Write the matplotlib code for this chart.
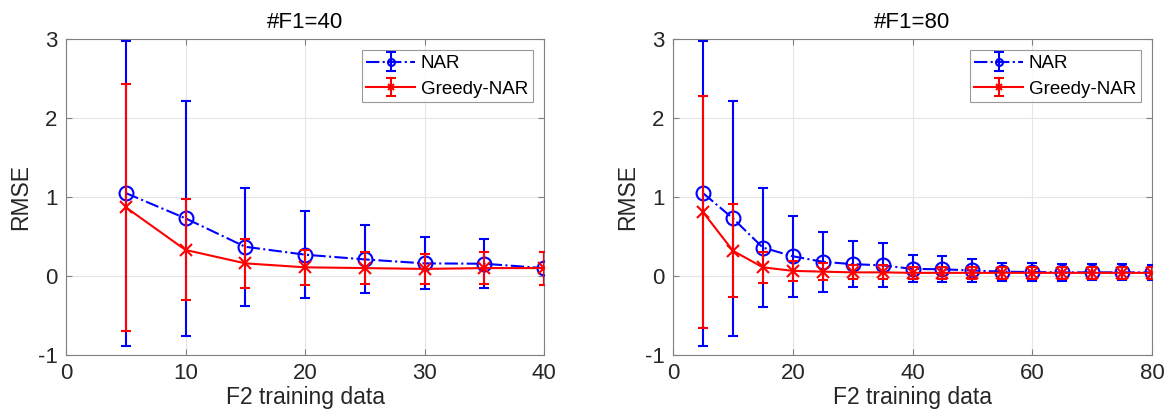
import matplotlib
matplotlib.use('Agg')
import matplotlib.pyplot as plt

plt.rcParams['font.family'] = ['Liberation Sans', 'DejaVu Sans']
plt.rcParams['axes.unicode_minus'] = False

# #F1=40
x40 = [5, 10, 15, 20, 25, 30, 35, 40]
nar40 = [1.05, 0.73, 0.37, 0.27, 0.21, 0.16, 0.155, 0.10]
nar40_err = [1.93, 1.49, 0.75, 0.55, 0.43, 0.33, 0.31, 0.21]
greedy40 = [0.87, 0.33, 0.16, 0.11, 0.10, 0.09, 0.10, 0.10]
greedy40_err = [1.56, 0.64, 0.31, 0.22, 0.20, 0.19, 0.20, 0.21]

# #F1=80
x80 = [5, 10, 15, 20, 25, 30, 35, 40, 45, 50, 55, 60, 65, 70, 75, 80]
nar80 = [1.05, 0.73, 0.36, 0.25, 0.18, 0.15, 0.135, 0.09, 0.085, 0.07,
         0.055, 0.05, 0.046, 0.046, 0.046, 0.045]
nar80_err = [1.93, 1.49, 0.75, 0.51, 0.38, 0.29, 0.28, 0.17, 0.165, 0.15,
             0.115, 0.11, 0.105, 0.10, 0.10, 0.10]
greedy80 = [0.81, 0.32, 0.11, 0.065, 0.055, 0.046, 0.046, 0.04, 0.04, 0.04,
            0.04, 0.04, 0.04, 0.04, 0.04, 0.04]
greedy80_err = [1.47, 0.59, 0.20, 0.125, 0.11, 0.09, 0.09, 0.08, 0.08, 0.08,
                0.08, 0.08, 0.08, 0.08, 0.08, 0.08]

titles = ['#F1=40', '#F1=80']
xlims = [40, 80]
xticks = [[0, 10, 20, 30, 40], [0, 20, 40, 60, 80]]

fig = plt.figure(figsize=(11.69, 4.18), dpi=100)
ax1 = fig.add_axes([66 / 1169, 63 / 418, 478 / 1169, 316 / 418])
ax2 = fig.add_axes([673 / 1169, 63 / 418, 479 / 1169, 316 / 418])

panels = [(ax1, x40, nar40, nar40_err, greedy40, greedy40_err),
          (ax2, x80, nar80, nar80_err, greedy80, greedy80_err)]

dark = '#262626'
for i, (ax, x, n, ne, g, ge) in enumerate(panels):
    ax.errorbar(x, n, yerr=ne, color='blue', ls='-.', lw=1.5, marker='o',
                ms=10, mfc='none', mew=1.5, capsize=3.5, capthick=1.5,
                elinewidth=1.5, label='NAR', zorder=3)
    ax.errorbar(x, g, yerr=ge, color='red', ls='-', lw=1.5, marker='x',
                ms=9, mew=1.5, capsize=3.5, capthick=1.5,
                elinewidth=1.5, label='Greedy-NAR', zorder=4)
    ax.set_xlim(0, xlims[i])
    ax.set_ylim(-1, 3)
    ax.set_xticks(xticks[i])
    ax.set_yticks([-1, 0, 1, 2, 3])
    ax.grid(True, color='#e6e6e6', lw=0.8)
    ax.set_axisbelow(True)
    for s in ax.spines.values():
        s.set_color('#808080')
        s.set_linewidth(0.8)
    ax.tick_params(direction='in', length=4, top=True, right=True,
                   labelsize=16, colors='#808080', labelcolor=dark, pad=6)
    ax.set_title(titles[i], fontsize=16, color='black', pad=8)
    ax.set_xlabel('F2 training data', fontsize=16.5, color=dark, labelpad=1)
    ax.set_ylabel('RMSE', fontsize=16.5, color=dark, labelpad=4)
    leg = ax.legend(loc='upper right', fontsize=13.5, frameon=True,
                    fancybox=False, edgecolor='#808080', handlelength=2.6,
                    borderpad=0.25, labelspacing=0.45, handletextpad=0.3,
                    borderaxespad=0.6, markerscale=0.5)
    leg.get_frame().set_linewidth(0.8)

fig.savefig('out.png', dpi=100)
